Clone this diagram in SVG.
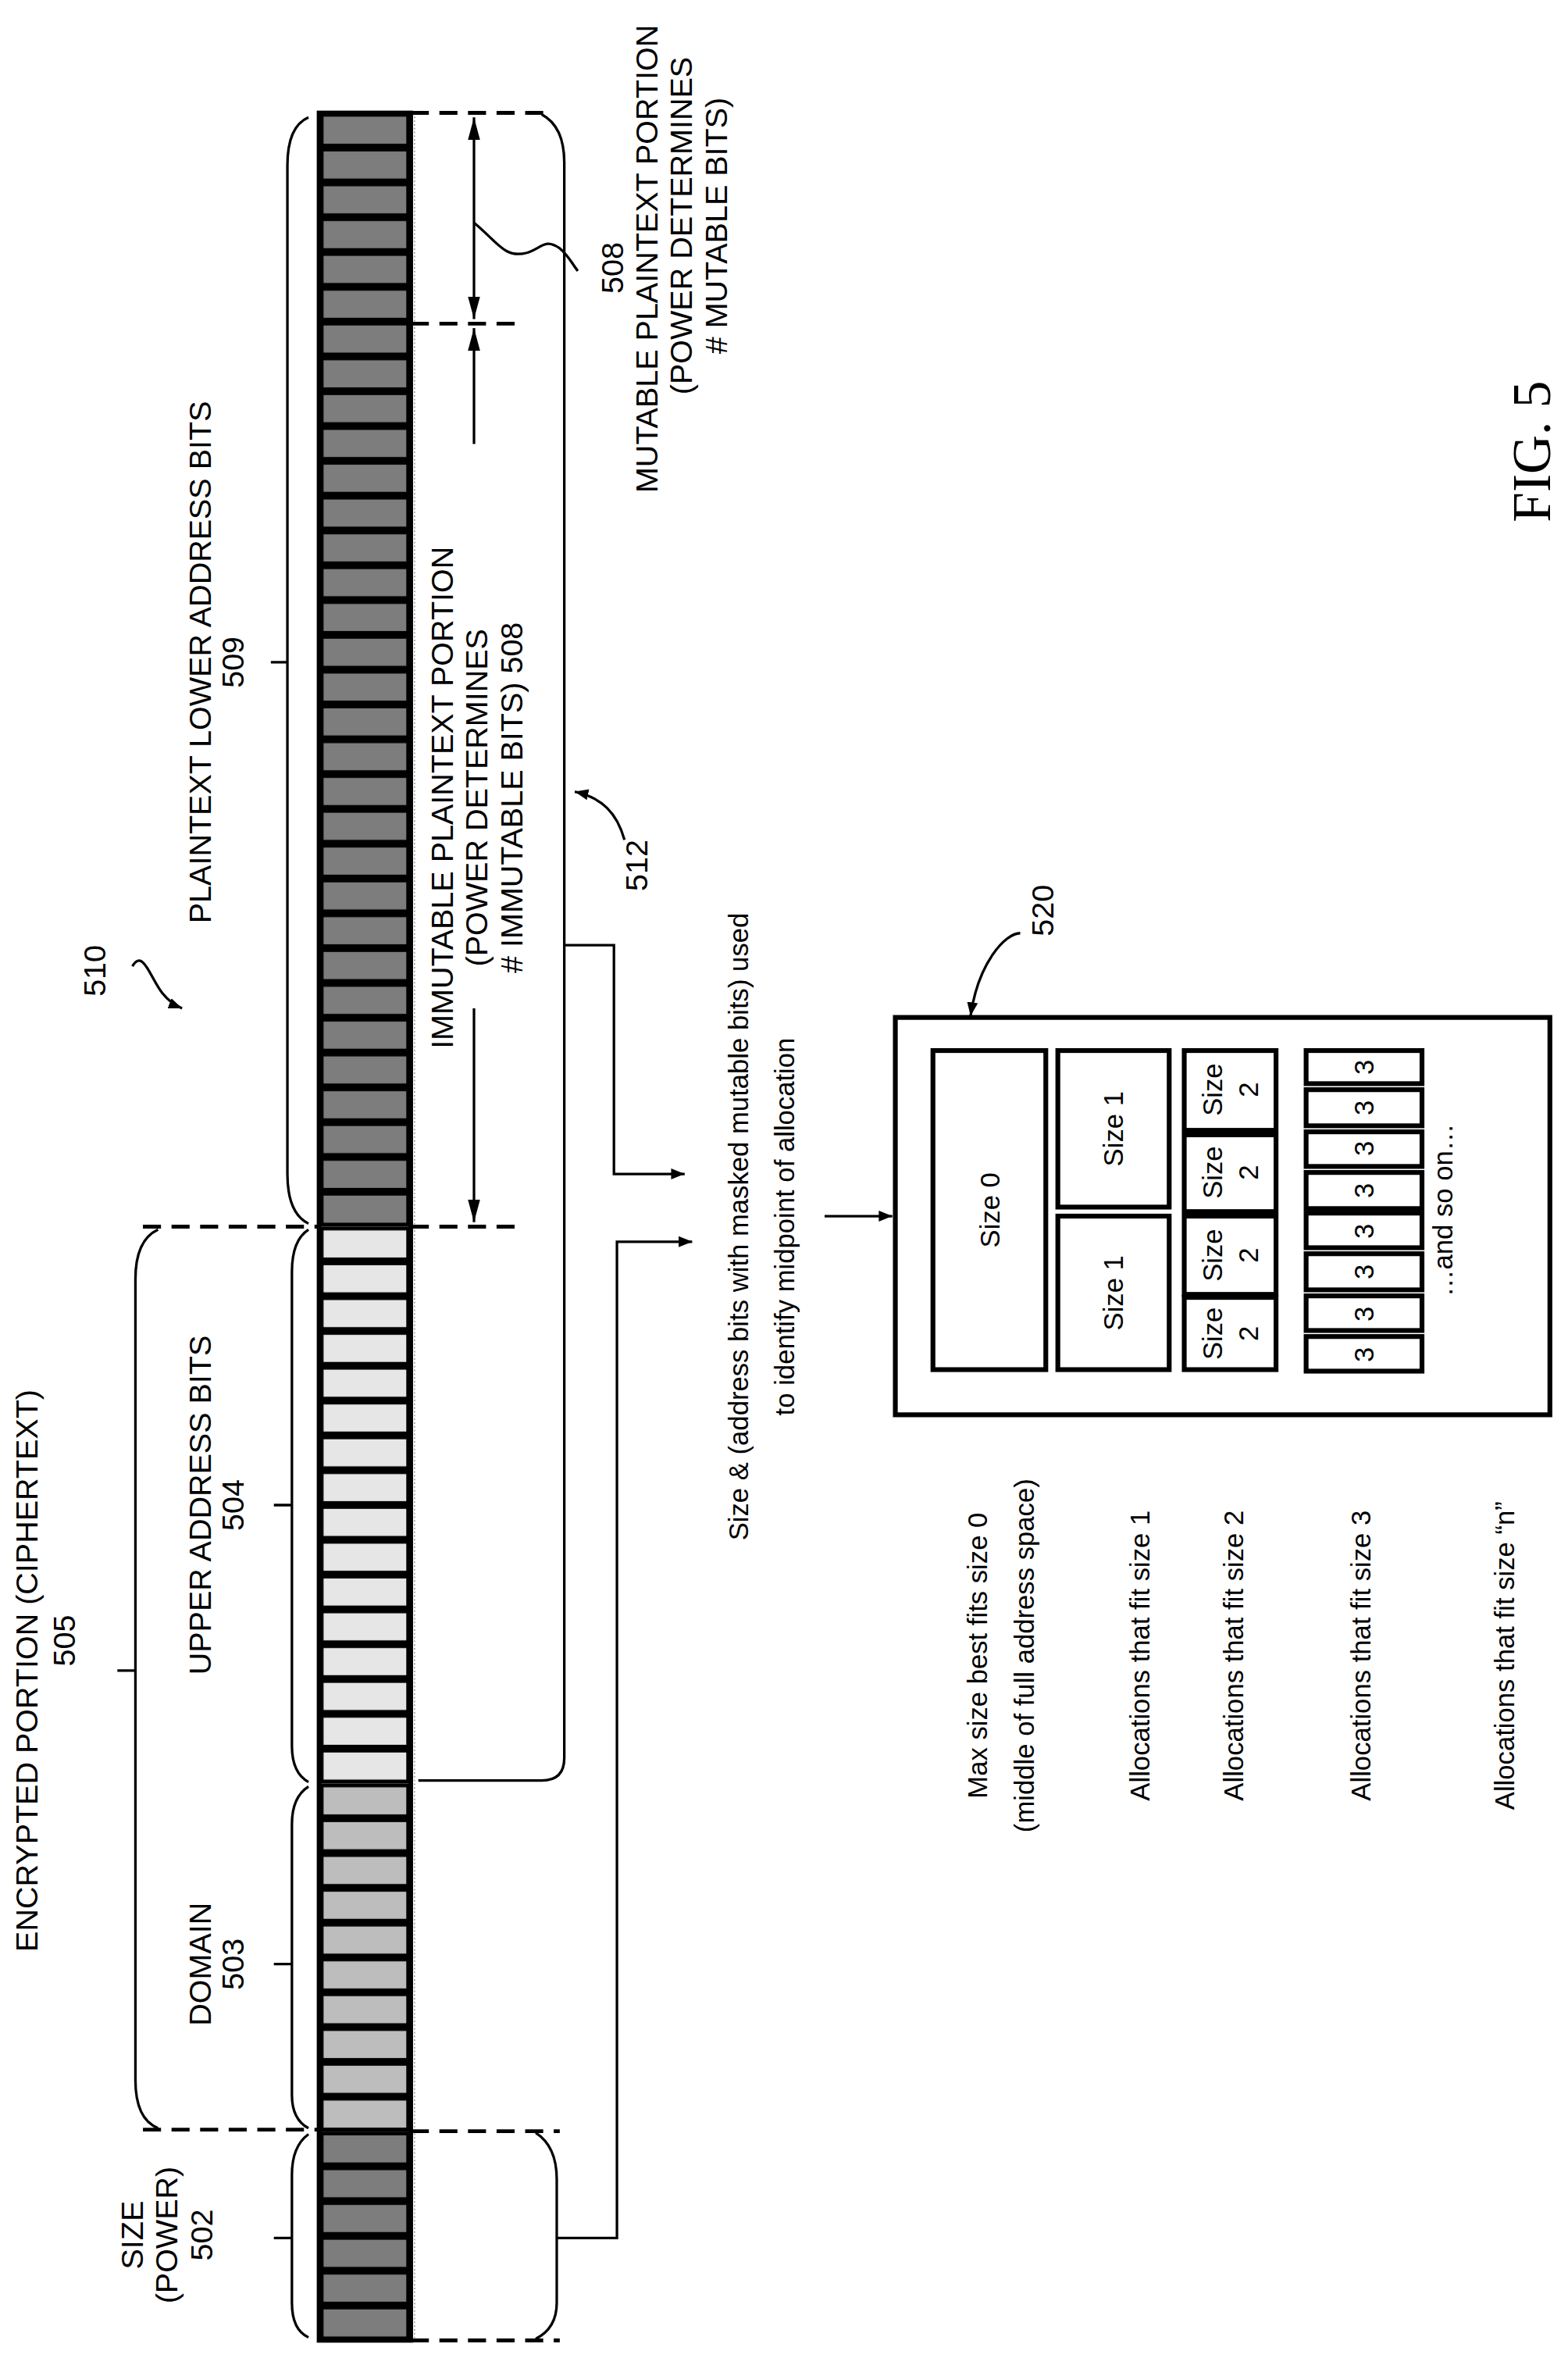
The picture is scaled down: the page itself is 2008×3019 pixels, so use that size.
<svg xmlns="http://www.w3.org/2000/svg" width="2008" height="3019" viewBox="0 0 2008 3019">
<style>
text{font-family:"Liberation Sans",Arial,sans-serif;fill:#000}
.t{font-size:20.5px}
.s{font-size:18px}
.ln{fill:none;stroke:#000;stroke-width:1.7}
.dash{fill:none;stroke:#000;stroke-width:2.5;stroke-dasharray:12,7}
.box{fill:#fff;stroke:#000;stroke-width:3.2}
</style>
<defs>
<pattern id="pd" patternUnits="userSpaceOnUse" width="61" height="23.125" patternTransform="translate(212,75)"><rect width="61" height="23.125" fill="#000"/><rect x="3" y="2.5" width="55" height="18" fill="#7d7d7d"/></pattern>
<pattern id="pl" patternUnits="userSpaceOnUse" width="61" height="23.125" patternTransform="translate(212,75)"><rect width="61" height="23.125" fill="#000"/><rect x="3" y="2.5" width="55" height="18" fill="#e6e6e6"/></pattern>
<pattern id="pm" patternUnits="userSpaceOnUse" width="61" height="23.125" patternTransform="translate(212,75)"><rect width="61" height="23.125" fill="#000"/><rect x="3" y="2.5" width="55" height="18" fill="#bdbdbd"/></pattern>
<marker id="ah" viewBox="0 0 10 10" refX="10" refY="5" markerWidth="9" markerHeight="9" orient="auto-start-reverse" markerUnits="userSpaceOnUse"><path d="M0,1 L10,5 L0,9 z" fill="#000"/></marker>
<marker id="ah2" viewBox="0 0 10 10" refX="10" refY="5" markerWidth="15" markerHeight="15" orient="auto-start-reverse" markerUnits="userSpaceOnUse"><path d="M0,2.3 L10,5 L0,7.7 z" fill="#000"/></marker>
</defs>
<g transform="scale(1.927)">
<g id="bar">
<rect x="212" y="75" width="61" height="740" fill="url(#pd)"/>
<rect x="212" y="815" width="61" height="370" fill="url(#pl)"/>
<rect x="212" y="1185" width="61" height="231.25" fill="url(#pm)"/>
<rect x="212" y="1416.25" width="61" height="138.75" fill="url(#pd)"/>
<rect x="212" y="75" width="61" height="1480" fill="none" stroke="#000" stroke-width="3"/>
<line x1="275.5" y1="75" x2="275.5" y2="1555" stroke="#999" stroke-width="0.8" stroke-dasharray="1,1.5"/>
</g>
<g id="connectors">
<line class="dash" x1="273" y1="75" x2="365" y2="75"/>
<line class="dash" x1="273" y1="215" x2="345" y2="215"/>
<line class="dash" x1="273" y1="815" x2="345" y2="815"/>
<line class="dash" x1="95" y1="815" x2="212" y2="815"/>
<line class="dash" x1="95" y1="1415" x2="212" y2="1415"/>
<line class="dash" x1="273" y1="1416" x2="372" y2="1416"/>
<line class="dash" x1="273" y1="1555" x2="372" y2="1555"/>
<line class="ln" x1="315" y1="78" x2="315" y2="212" marker-start="url(#ah2)" marker-end="url(#ah2)"/>
<line class="ln" x1="315" y1="295" x2="315" y2="218" marker-end="url(#ah2)"/>
<line class="ln" x1="315" y1="670" x2="315" y2="812" marker-end="url(#ah2)"/>
<path class="ln" d="M315,148 C330,160 335,172 350,168 C360,165 362,158 372,165 C378,170 380,175 384,180"/>
<path class="ln" d="M205,78 Q191,84 191,110 L191,780 Q191,806 205,813 M191,440 L180,440"/>
<path class="ln" d="M105,817 Q90,824 90,850 L90,1382 Q90,1408 105,1414 M90,1110 L78,1110"/>
<path class="ln" d="M205,817 Q194,824 194,845 L194,1160 Q194,1178 205,1184 M194,1000 L182,1000"/>
<path class="ln" d="M205,1187 Q194,1194 194,1212 L194,1392 Q194,1408 205,1414 M194,1305 L182,1305"/>
<path class="ln" d="M205,1418 Q194,1426 194,1445 L194,1530 Q194,1548 205,1553 M194,1487 L182,1487"/>
<path class="ln" d="M360,76 Q375,84 375,108 L375,1168 Q375,1183 360,1183 L278,1183"/>
<path class="ln" d="M356,1417 Q370,1426 370,1448 L370,1530 Q370,1547 356,1554 M370,1487 L410,1487 L410,825 L460,825" marker-end="url(#ah)" stroke-width="2.2"/>
<path class="ln" d="M375,628 L408,628 L408,780 L455,780" marker-end="url(#ah)" stroke-width="2.2"/>
<line class="ln" x1="548" y1="808" x2="593" y2="808" marker-end="url(#ah)" stroke-width="2.2"/>
<path class="ln" d="M415,558 C410,540 400,530 382,526" marker-end="url(#ah)"/>
<path class="ln" d="M88,642 C95,630 100,650 108,660 C112,665 116,668 121,670" marker-end="url(#ah)"/>
<path class="ln" d="M678,620 C668,620 650,640 645,675" marker-end="url(#ah)"/>
</g>
<g id="labels">
<text class="t" text-anchor="middle" transform="translate(25,1110) rotate(-90)">ENCRYPTED PORTION (CIPHERTEXT)</text>
<text class="t" text-anchor="middle" transform="translate(50,1090) rotate(-90)">505</text>
<text class="t" text-anchor="middle" transform="translate(140,440) rotate(-90)">PLAINTEXT LOWER ADDRESS BITS</text>
<text class="t" text-anchor="middle" transform="translate(162,440) rotate(-90)">509</text>
<text class="t" text-anchor="middle" transform="translate(140,1000) rotate(-90)">UPPER ADDRESS BITS</text>
<text class="t" text-anchor="middle" transform="translate(162,1000) rotate(-90)">504</text>
<text class="t" text-anchor="middle" transform="translate(140,1305) rotate(-90)">DOMAIN</text>
<text class="t" text-anchor="middle" transform="translate(162,1305) rotate(-90)">503</text>
<text class="t" text-anchor="middle" transform="translate(95,1485) rotate(-90)">SIZE</text>
<text class="t" text-anchor="middle" transform="translate(118,1485) rotate(-90)">(POWER)</text>
<text class="t" text-anchor="middle" transform="translate(141,1485) rotate(-90)">502</text>
<text class="t" text-anchor="middle" transform="translate(70,645) rotate(-90)">510</text>
<text class="t" text-anchor="middle" transform="translate(301,530) rotate(-90)">IMMUTABLE PLAINTEXT PORTION</text>
<text class="t" text-anchor="middle" transform="translate(324,530) rotate(-90)">(POWER DETERMINES</text>
<text class="t" text-anchor="middle" transform="translate(347,530) rotate(-90)"># IMMUTABLE BITS)  508</text>
<text class="t" text-anchor="middle" transform="translate(430,575) rotate(-90)">512</text>
<text class="t" text-anchor="middle" transform="translate(414,178) rotate(-90)">508</text>
<text class="t" text-anchor="middle" transform="translate(437,172) rotate(-90)">MUTABLE PLAINTEXT PORTION</text>
<text class="t" text-anchor="middle" transform="translate(460,150) rotate(-90)">(POWER DETERMINES</text>
<text class="t" text-anchor="middle" transform="translate(483,150) rotate(-90)"># MUTABLE BITS)</text>
<text class="s" text-anchor="middle" transform="translate(497,815) rotate(-90)">Size &amp; (address bits with masked mutable bits) used</text>
<text class="s" text-anchor="middle" transform="translate(528,815) rotate(-90)">to identify midpoint of allocation</text>
<text class="t" text-anchor="middle" transform="translate(700,605) rotate(-90)">520</text>
<text class="s" text-anchor="middle" transform="translate(656,1100) rotate(-90)">Max size best fits size 0</text>
<text class="s" text-anchor="middle" transform="translate(687,1100) rotate(-90)">(middle of full address space)</text>
<text class="s" text-anchor="middle" transform="translate(764,1100) rotate(-90)">Allocations that fit size 1</text>
<text class="s" text-anchor="middle" transform="translate(826,1100) rotate(-90)">Allocations that fit size 2</text>
<text class="s" text-anchor="middle" transform="translate(911,1100) rotate(-90)">Allocations that fit size 3</text>
<text class="s" text-anchor="middle" transform="translate(1006,1100) rotate(-90)">Allocations that fit size “n”</text>
<text text-anchor="middle" transform="translate(1030,300) rotate(-90)" style="font-family:'Liberation Serif','Times New Roman',serif;font-size:36px">FIG. 5</text>
</g>
<g id="box520">
<rect class="box" x="595" y="676" width="435" height="264"/>
<rect class="box" x="620" y="698" width="75" height="212"/>
<text class="s" text-anchor="middle" transform="translate(664,804) rotate(-90)">Size 0</text>
<rect class="box" x="703" y="698" width="74" height="104"/>
<text class="s" text-anchor="middle" transform="translate(746,750) rotate(-90)">Size 1</text>
<rect class="box" x="703" y="808" width="74" height="102"/>
<text class="s" text-anchor="middle" transform="translate(746,859) rotate(-90)">Size 1</text>
<rect class="box" x="787" y="698" width="61" height="53"/>
<rect class="box" x="787" y="754" width="61" height="51"/>
<rect class="box" x="787" y="808" width="61" height="52"/>
<rect class="box" x="787" y="862" width="61" height="48"/>
<g text-anchor="middle">
<text class="s" transform="translate(812,724) rotate(-90)">Size</text><text class="s" transform="translate(836,724) rotate(-90)">2</text>
<text class="s" transform="translate(812,779) rotate(-90)">Size</text><text class="s" transform="translate(836,779) rotate(-90)">2</text>
<text class="s" transform="translate(812,834) rotate(-90)">Size</text><text class="s" transform="translate(836,834) rotate(-90)">2</text>
<text class="s" transform="translate(812,886) rotate(-90)">Size</text><text class="s" transform="translate(836,886) rotate(-90)">2</text>
</g>
<g text-anchor="middle">
<rect class="box" x="868" y="698" width="77" height="22"/><text class="s" transform="translate(913,709) rotate(-90)">3</text>
<rect class="box" x="868" y="724" width="77" height="24"/><text class="s" transform="translate(913,736) rotate(-90)">3</text>
<rect class="box" x="868" y="752" width="77" height="23"/><text class="s" transform="translate(913,763) rotate(-90)">3</text>
<rect class="box" x="868" y="779" width="77" height="24"/><text class="s" transform="translate(913,791) rotate(-90)">3</text>
<rect class="box" x="868" y="806" width="77" height="23"/><text class="s" transform="translate(913,818) rotate(-90)">3</text>
<rect class="box" x="868" y="833" width="77" height="24"/><text class="s" transform="translate(913,845) rotate(-90)">3</text>
<rect class="box" x="868" y="861" width="77" height="23"/><text class="s" transform="translate(913,873) rotate(-90)">3</text>
<rect class="box" x="868" y="888" width="77" height="23"/><text class="s" transform="translate(913,900) rotate(-90)">3</text>
<text class="s" transform="translate(965,804) rotate(-90)">…and so on…</text>
</g>
</g>
</g>
</svg>
